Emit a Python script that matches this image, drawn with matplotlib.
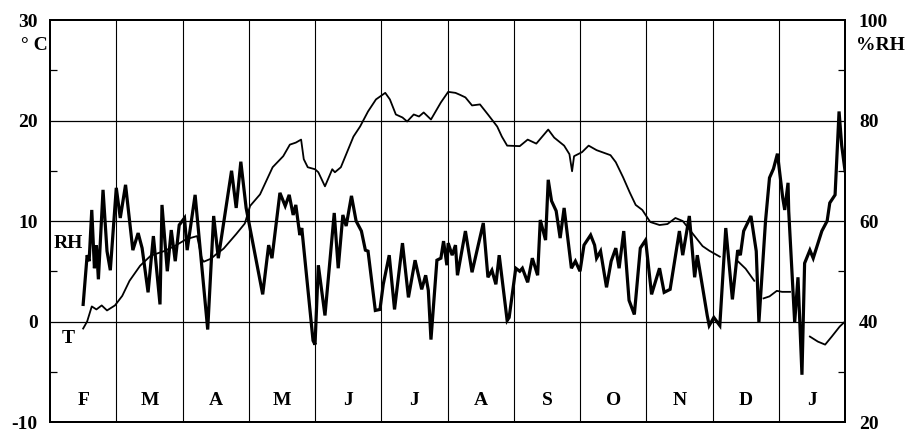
import numpy as np
import matplotlib
matplotlib.use("Agg")
import matplotlib.pyplot as plt
from matplotlib.ticker import MultipleLocator

# x positions are in months from 1 Feb (0 = start of F, 12 = end of J)
months = ["F", "M", "A", "M", "J", "J", "A", "S", "O", "N", "D", "J"]

t_x = [0.50, 0.56, 0.59, 0.63, 0.67, 0.70, 0.73, 0.80, 0.86, 0.91,
       1.00, 1.06, 1.14, 1.25, 1.33, 1.39, 1.48, 1.56, 1.66, 1.69,
       1.77, 1.83, 1.89, 1.95, 2.03, 2.07, 2.19, 2.38, 2.47, 2.54,
       2.74, 2.81, 2.88, 2.96, 3.21, 3.30, 3.35, 3.47, 3.55, 3.61,
       3.67, 3.71, 3.77, 3.80, 3.97, 4.00, 4.05, 4.15, 4.29, 4.35,
       4.42, 4.47, 4.55, 4.62, 4.70, 4.76, 4.80, 4.91, 4.98, 5.03,
       5.12, 5.20, 5.32, 5.41, 5.51, 5.61, 5.67, 5.71, 5.75, 5.84,
       5.90, 5.94, 5.99, 6.01, 6.07, 6.12, 6.15, 6.27, 6.37, 6.54,
       6.61, 6.67, 6.73, 6.78, 6.90, 6.93, 7.03, 7.09, 7.13, 7.21,
       7.28, 7.36, 7.40, 7.48, 7.52, 7.57, 7.64, 7.70, 7.76, 7.87,
       7.93, 8.00, 8.06, 8.16, 8.22, 8.25, 8.31, 8.40, 8.47, 8.54,
       8.59, 8.66, 8.74, 8.82, 8.91, 8.99, 9.08, 9.20, 9.27, 9.36,
       9.50, 9.55, 9.65, 9.73, 9.77, 9.92, 9.95, 10.02, 10.11, 10.20,
       10.30, 10.38, 10.42, 10.47, 10.58, 10.66, 10.70, 10.80, 10.86, 10.92,
       10.98, 11.06, 11.09, 11.14, 11.15, 11.24, 11.29, 11.35, 11.39, 11.47,
       11.52, 11.65, 11.73, 11.77, 11.85, 11.91, 11.95, 12.00]
t_val = [1.7, 6.6, 6.0, 11.1, 5.3, 7.6, 4.2, 13.1, 7.0, 5.1,
         13.3, 10.3, 13.6, 7.1, 8.8, 7.3, 2.9, 8.5, 1.7, 11.6,
         5.0, 9.1, 6.0, 9.6, 10.3, 7.1, 12.6, -0.8, 10.5, 6.3,
         15.0, 11.3, 15.9, 11.3, 2.7, 7.6, 6.3, 12.8, 11.5, 12.6,
         10.6, 11.6, 8.6, 9.3, -1.9, -2.3, 5.6, 0.6, 10.8, 5.3,
         10.6, 9.5, 12.5, 10.0, 9.0, 7.1, 7.0, 1.1, 1.2, 3.7,
         6.6, 1.2, 7.8, 2.4, 6.1, 3.2, 4.6, 3.1, -1.8, 6.1,
         6.3, 8.0, 5.6, 7.8, 6.6, 7.6, 4.6, 9.0, 4.9, 9.8,
         4.4, 5.1, 3.7, 6.6, 0.1, 0.4, 5.3, 5.0, 5.3, 3.9,
         6.3, 4.6, 10.1, 8.1, 14.1, 12.0, 11.0, 8.3, 11.3, 5.3,
         6.0, 5.0, 7.6, 8.6, 7.6, 6.3, 7.0, 3.4, 6.0, 7.3,
         5.3, 9.0, 2.1, 0.7, 7.3, 8.1, 2.7, 5.3, 2.9, 3.2,
         9.0, 6.6, 10.5, 4.4, 6.6, 0.6, -0.4, 0.4, -0.4, 9.3,
         2.2, 7.1, 6.6, 9.0, 10.5, 7.0, -0.1, 10.0, 14.3, 15.2,
         16.7, 12.3, 11.1, 13.8, 11.0, -0.1, 4.4, -5.3, 5.8, 7.1,
         6.3, 9.0, 10.0, 11.8, 12.6, 20.9, 17.5, 15.0]

rh_x = [0.50, 0.56, 0.63, 0.70, 0.78, 0.86, 0.98, 1.09, 1.20, 1.36,
        1.52, 1.72, 1.88, 2.06, 2.22, 2.29, 2.32, 2.43, 2.50, 2.62,
        2.81, 2.94, 3.02, 3.17, 3.36, 3.52, 3.62, 3.71, 3.79, 3.83,
        3.89, 4.00, 4.05, 4.15, 4.26, 4.30, 4.39, 4.58, 4.68, 4.80,
        4.92, 5.06, 5.13, 5.22, 5.32, 5.39, 5.49, 5.57, 5.64, 5.75,
        5.90, 6.01, 6.12, 6.19, 6.27, 6.37, 6.49, 6.61, 6.75, 6.82,
        6.90, 7.09, 7.21, 7.34, 7.52, 7.61, 7.76, 7.84, 7.88, 7.91,
        8.03, 8.13, 8.25, 8.46, 8.54, 8.65, 8.75, 8.84, 8.94, 9.06,
        9.20, 9.32, 9.44, 9.55, 9.73, 9.85, 9.95, 10.11, 10.25, 10.39,
        10.50, 10.63, 10.70, 10.77, 10.86, 10.97, 11.05, 11.17, 11.32, 11.47,
        11.59, 11.70, 11.80, 11.92, 12.00]
rh_val = [38.6, 40.0, 43.0, 42.4, 43.2, 42.2, 43.2, 45.1, 48.1, 51.1,
          53.1, 54.0, 55.0, 56.4, 57.0, 52.5, 51.9, 52.5, 53.3, 54.5,
          57.4, 59.5, 63.0, 65.3, 70.7, 72.9, 75.2, 75.6, 76.2, 72.3,
          70.7, 70.3, 69.7, 66.9, 70.3, 69.7, 70.7, 76.8, 78.8, 81.8,
          84.2, 85.5, 84.2, 81.2, 80.6, 79.8, 81.2, 80.8, 81.6, 80.2,
          83.6, 85.7, 85.5, 85.1, 84.6, 83.0, 83.2, 81.2, 78.8, 76.8,
          75.0, 74.9, 76.2, 75.4, 78.2, 76.6, 75.0, 73.3, 69.9, 72.9,
          73.7, 75.0, 74.1, 73.1, 71.7, 68.7, 65.7, 63.2, 62.2, 59.8,
          59.2, 59.4, 60.6, 60.0, 57.0, 55.0, 54.1, 52.9, np.nan, 51.9,
          50.5, 48.1, np.nan, 44.6, 45.0, 46.1, 45.9, 45.9, np.nan, 37.0,
          36.0, 35.4, 37.0, 39.0, 40.0]

plt.rcParams['font.family'] = ['Liberation Serif', 'DejaVu Serif']
plt.rcParams['font.weight'] = 'bold'
fs = 14

fig = plt.figure(figsize=(9.18, 4.33), dpi=100)
ax = fig.add_axes([0.0545, 0.0254, 0.866, 0.9284])
ax2 = ax.twinx()

ax.set_xlim(0, 12)
ax.set_ylim(-10, 30)
ax2.set_ylim(20, 100)

# grid
for i in range(1, 12):
    ax.axvline(i, color='black', lw=0.8, zorder=1)
for v in (0, 10, 20):
    ax.axhline(v, color='black', lw=0.9, zorder=1)

ax2.plot(rh_x, rh_val, color='black', lw=1.3, zorder=2)
ax.plot(t_x, t_val, color='black', lw=2.3, zorder=3, solid_joinstyle='miter')
ax.set_zorder(ax2.get_zorder() + 1)
ax.patch.set_visible(False)

for i, m in enumerate(months):
    ax.text(i + 0.5, -7.9, m, ha='center', va='center', fontsize=fs, fontweight='bold')

ax.text(0.28, 7.8, "RH", ha='center', va='center', fontsize=fs, fontweight='bold')
ax.text(0.27, -1.7, "T", ha='center', va='center', fontsize=fs, fontweight='bold')

ax.set_xticks([])
ax.set_yticks([-10, 0, 10, 20, 30])
ax.set_yticklabels(["-10", "0", "10", "20", "30"])
ax.yaxis.set_minor_locator(MultipleLocator(5))
ax.tick_params(axis='y', which='major', length=0, pad=9, labelsize=fs)
ax.tick_params(axis='y', which='minor', direction='in', length=5, width=0.9)

ax2.set_yticks([20, 40, 60, 80, 100])
ax2.yaxis.set_minor_locator(MultipleLocator(10))
ax2.tick_params(axis='y', which='major', length=0, pad=10, labelsize=fs)
ax2.tick_params(axis='y', which='minor', direction='in', length=5, width=0.9)

for sp in ax.spines.values():
    sp.set_linewidth(1.4)
for sp in ax2.spines.values():
    sp.set_linewidth(1.4)

fig.text(34 / 918, 1 - 45 / 433, "\u00b0 C", ha='center', va='center', fontsize=fs, fontweight='bold')
fig.text(880 / 918, 1 - 45 / 433, "%RH", ha='center', va='center', fontsize=fs, fontweight='bold')

fig.savefig("out.png", dpi=100)
